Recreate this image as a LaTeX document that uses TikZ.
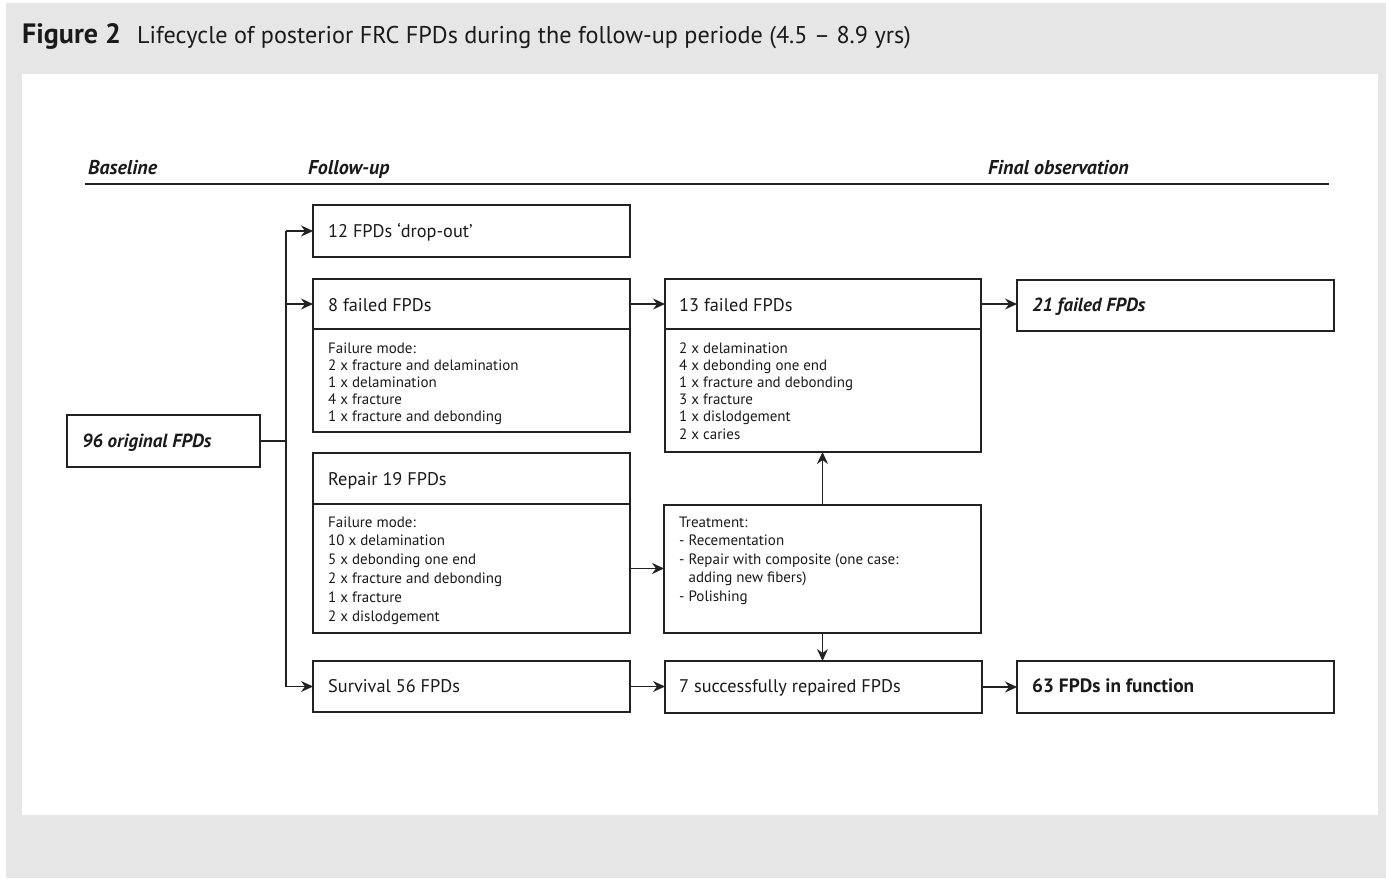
\documentclass[tikz,border=0pt]{standalone}
\usepackage{fontspec}
\setmainfont{PT Sans}
\usetikzlibrary{arrows.meta}
\definecolor{bggray}{HTML}{E6E6E6}
\definecolor{linec}{HTML}{222222}
\definecolor{textc}{HTML}{1A1A1A}
\begin{document}
\begin{tikzpicture}[x=1pt,y=-1pt,
  panel/.style={draw=none, inner sep=0pt, outer sep=0pt, anchor=north west},
  boxn/.style={draw=linec, line width=1.4pt, inner sep=0pt, outer sep=0pt, anchor=north west, fill=white},
  conn/.style={draw=linec, line width=1.4pt},
  arr/.style={conn, -{Stealth[length=12pt,width=11pt,inset=4pt]}},
  hd/.style={font=\fontsize{18.3}{21}\selectfont, anchor=base west, inner sep=0pt, text=textc},
  hdb/.style={font=\fontsize{19}{22}\selectfont\bfseries\itshape, anchor=base west, inner sep=0pt, text=textc},
  bd/.style={font=\fontsize{15}{17}\selectfont, anchor=base west, inner sep=0pt, text=textc},
  sec/.style={font=\fontsize{20}{23}\selectfont\bfseries\itshape, anchor=base west, inner sep=0pt, text=textc},
]
\useasboundingbox (0,0) rectangle (1386,878);
% background
\node[panel, fill=white, minimum width=1386pt, minimum height=878pt] (bgwhite) at (0,0) {};
\node[panel, fill=bggray, minimum width=1380pt, minimum height=875pt] (bggrey) at (6,3) {};
\node[panel, fill=white, minimum width=1356pt, minimum height=741pt] (card) at (22,74) {};

% title
\node[anchor=base west, inner sep=0pt, text=textc, font=\fontsize{28}{32}\selectfont\bfseries] (figno) at (22,43) {Figure 2};
\node[anchor=base west, inner sep=0pt, text=textc, font=\fontsize{24.2}{28}\selectfont] (figtitle) at (137,43) {Lifecycle of posterior FRC FPDs during the follow-up periode (4.5 – 8.9 yrs)};

% section headings
\node[sec] (sbase) at (88,174) {Baseline};
\node[sec] (sfollow) at (308,174) {Follow-up};
\node[sec] (sfinal) at (988,174) {Final observation};
\coordinate (rulel) at (85,184);
\coordinate (ruler) at (1329,184);
\draw[line width=1.4pt, draw=linec] (rulel) -- (ruler);

% boxes
\node[boxn, minimum width=193pt, minimum height=52pt] (orig) at (67,415) {};
\node[boxn, minimum width=317pt, minimum height=52pt] (drop) at (313,205) {};
\node[boxn, minimum width=317pt, minimum height=50pt] (fa8h) at (313,279) {};
\node[boxn, minimum width=317pt, minimum height=103pt] (fa8b) at (313,329) {};
\node[boxn, minimum width=317pt, minimum height=51pt] (reph) at (313,453) {};
\node[boxn, minimum width=317pt, minimum height=129pt] (repb) at (313,504) {};
\node[boxn, minimum width=317pt, minimum height=51pt] (surv) at (313,661) {};
\node[boxn, minimum width=316pt, minimum height=50pt] (fa13h) at (665,279) {};
\node[boxn, minimum width=316pt, minimum height=123pt] (fa13b) at (665,329) {};
\node[boxn, minimum width=317pt, minimum height=128pt] (treat) at (664,505) {};
\node[boxn, minimum width=317pt, minimum height=52pt] (rep7) at (665,661) {};
\node[boxn, minimum width=317pt, minimum height=51pt] (fa21) at (1017,280) {};
\node[boxn, minimum width=317pt, minimum height=52pt] (fn63) at (1017,661) {};

% box texts
\node[hdb] (torig) at (82,447) {96 original FPDs};
\node[hd] (tdrop) at (328,237) {12 FPDs ‘drop-out’};
\node[hd] (tfa8) at (328,311) {8 failed FPDs};
\node[hd] (trep) at (328,485) {Repair 19 FPDs};
\node[hd] (tsurv) at (328,692) {Survival 56 FPDs};
\node[hd] (tfa13) at (679,311) {13 failed FPDs};
\node[hd] (trep7) at (679,692) {7 successfully repaired FPDs};
\node[hdb] (tfa21) at (1032,311) {21 failed FPDs};
\node[hd, font=\fontsize{19.3}{22}\selectfont\bfseries] (tfn63) at (1032,692) {63 FPDs in function};

\foreach \t [count=\i] in {Failure mode:, 2 x fracture and delamination, 1 x delamination, 4 x fracture, 1 x fracture and debonding}
  \node[bd] (fa8l\i) at (328,{353+17.2*(\i-1)}) {\t};
\foreach \t [count=\i] in {2 x delamination, 4 x debonding one end, 1 x fracture and debonding, 3 x fracture, 1 x dislodgement, 2 x caries}
  \node[bd] (fa13l\i) at (679,{353+17.2*(\i-1)}) {\t};
\foreach \t [count=\i] in {Failure mode:, 10 x delamination, 5 x debonding one end, 2 x fracture and debonding, 1 x fracture, 2 x dislodgement}
  \node[bd] (repl\i) at (328,{527+18.8*(\i-1)}) {\t};
\foreach \t [count=\i] in {Treatment:, - Recementation, - Repair with composite (one case:, \phantom{-} adding new fibers), - Polishing}
  \node[bd] (trl\i) at (679,{527+18.6*(\i-1)}) {\t};

% connectors
\coordinate (trunk) at (286,441);
\draw[conn] (orig.east |- trunk) -- (trunk);
\draw[conn] (trunk |- drop.west) -- (trunk |- surv.west);
\draw[arr] (trunk |- drop.west) -- (drop.west);
\draw[arr] (trunk |- fa8h.west) -- (fa8h.west);
\draw[arr] (trunk |- surv.west) -- (surv.west);
\draw[arr] (fa8h.east) -- (fa8h.east -| fa13h.west);
\draw[arr] (fa13h.east) -- (fa13h.east -| fa21.west);
\draw[arr] (repb.east) -- (repb.east -| treat.west);
\draw[arr] (treat.north) -- (treat.north |- fa13b.south);
\draw[arr] (treat.south) -- (treat.south |- rep7.north);
\draw[arr] (surv.east) -- (surv.east -| rep7.west);
\draw[arr] (rep7.east) -- (rep7.east -| fn63.west);
\end{tikzpicture}
\end{document}
